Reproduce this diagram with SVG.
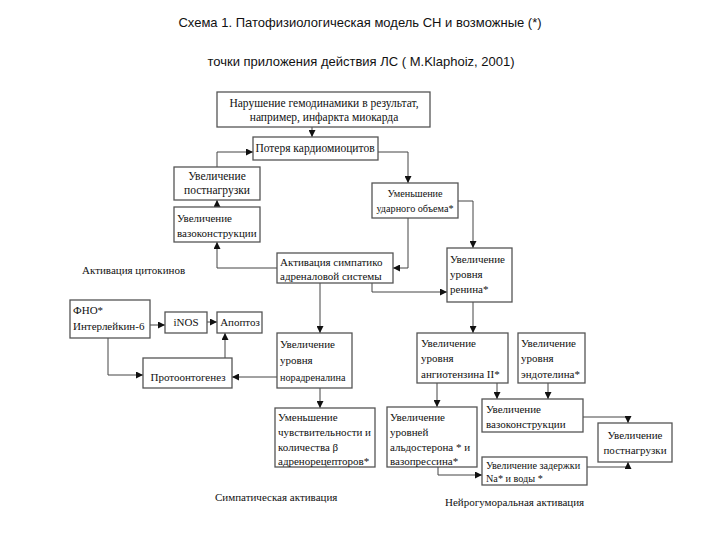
<svg xmlns="http://www.w3.org/2000/svg" width="720" height="540" viewBox="0 0 720 540">
<style>
.title{font-family:"Liberation Sans",Arial,sans-serif;font-size:13px;fill:#111}
.t{font-family:"Liberation Serif","Times New Roman",serif;font-size:11px;fill:#111}
.b{font-size:11.5px}
.s{font-size:10.2px}
.c{text-anchor:middle}
.box{fill:#fff;stroke:#555;stroke-width:1.3}
.ln{fill:none;stroke:#444;stroke-width:1}
</style>
<defs>
<marker id="ar" viewBox="0 0 8 8" refX="8" refY="4" markerWidth="7" markerHeight="7" markerUnits="userSpaceOnUse" orient="auto">
<path d="M0,0 L8,4 L0,8 z" fill="#111"/>
</marker>
</defs>
<rect width="720" height="540" fill="#fff"/>
<text class="title" x="360" y="27" text-anchor="middle">Схема 1. Патофизиологическая модель СН и возможные (*)</text>
<text class="title" x="361" y="66" text-anchor="middle">точки приложения действия ЛС ( M.Klaphoiz, 2001)</text>

<g id="connectors">
<path class="ln" marker-end="url(#ar)" d="M312,127 V137"/>
<path class="ln" marker-end="url(#ar)" d="M217,167 V152 H253"/>
<path class="ln" marker-end="url(#ar)" d="M378,152 H408 V183"/>
<path class="ln" marker-end="url(#ar)" d="M458,201 H473 V248"/>
<path class="ln" marker-end="url(#ar)" d="M408,218 V268 H393"/>
<path class="ln" marker-end="url(#ar)" d="M277,268 H217 V242"/>
<path class="ln" marker-end="url(#ar)" d="M217,207 V200"/>
<path class="ln" marker-end="url(#ar)" d="M372,283 V292 H447"/>
<path class="ln" marker-end="url(#ar)" d="M320,283 V333"/>
<path class="ln" marker-end="url(#ar)" d="M473,302 V333"/>
<path class="ln" marker-end="url(#ar)" d="M150,325 H165"/>
<path class="ln" marker-end="url(#ar)" d="M207,322 H217"/>
<path class="ln" marker-end="url(#ar)" d="M108,338 V375 H143"/>
<path class="ln" marker-end="url(#ar)" d="M225,358 V333"/>
<path class="ln" marker-end="url(#ar)" d="M277,377 H232"/>
<path class="ln" marker-end="url(#ar)" d="M320,388 V408"/>
<path class="ln" marker-end="url(#ar)" d="M437,383 V407"/>
<path class="ln" marker-end="url(#ar)" d="M497,383 V399"/>
<path class="ln" marker-end="url(#ar)" d="M548,383 V399"/>
<path class="ln" marker-end="url(#ar)" d="M583,417 H628 V423"/>
<path class="ln" marker-end="url(#ar)" d="M438,467 V475 H482"/>
<path class="ln" marker-end="url(#ar)" d="M587,467 H628 V462"/>
</g>

<g id="n1"><rect class="box" x="217" y="92" width="213" height="35"/>
<text class="t b c" x="324" y="107">Нарушение гемодинамики в результат,</text>
<text class="t b c" x="324" y="121">например, инфаркта миокарда</text></g>

<g id="n2"><rect class="box" x="253" y="137" width="125" height="23"/>
<text class="t b c" x="315" y="152">Потеря кардиомиоцитов</text></g>

<g id="n3"><rect class="box" x="174" y="167" width="86" height="33"/>
<text class="t b c" x="217" y="180">Увеличение</text>
<text class="t b c" x="217" y="194">постнагрузки</text></g>

<g id="n4"><rect class="box" x="174" y="207" width="86" height="35"/>
<text class="t" x="177" y="222">Увеличение</text>
<text class="t" x="177" y="237">вазоконструкции</text></g>

<g id="n5"><rect class="box" x="372" y="183" width="86" height="35"/>
<text class="t s c" x="415" y="197">Уменьшение</text>
<text class="t s c" x="415" y="212">ударного объема*</text></g>

<g id="n6"><rect class="box" x="277" y="253" width="116" height="30"/>
<text class="t" x="280" y="266">Активация симпатико</text>
<text class="t" x="280" y="280">адреналовой системы</text></g>

<g id="n7"><rect class="box" x="447" y="248" width="65" height="54"/>
<text class="t" x="450" y="263">Увеличение</text>
<text class="t" x="450" y="278">уровня</text>
<text class="t" x="450" y="293">ренина*</text></g>

<text class="t" x="82" y="274">Активация цитокинов</text>

<g id="n8"><rect class="box" x="70" y="300" width="80" height="38"/>
<text class="t" x="73" y="314">ФНО*</text>
<text class="t" x="73" y="330">Интерлейкин-6</text></g>

<g id="n9"><rect class="box" x="165" y="312" width="42" height="21"/>
<text class="t c" x="186" y="326">iNOS</text></g>

<g id="n10"><rect class="box" x="217" y="312" width="45" height="21"/>
<text class="t c" x="240" y="326">Апоптоз</text></g>

<g id="n11"><rect class="box" x="143" y="358" width="89" height="30"/>
<text class="t c" x="188" y="381">Протоонтогенез</text></g>

<g id="n12"><rect class="box" x="277" y="333" width="75" height="55"/>
<text class="t" x="280" y="348">Увеличение</text>
<text class="t" x="280" y="364">уровня</text>
<text class="t s" x="280" y="381">норадреналина</text></g>

<g id="n13"><rect class="box" x="417" y="333" width="91" height="50"/>
<text class="t" x="421" y="347">Увеличение</text>
<text class="t" x="421" y="362">уровня</text>
<text class="t" x="421" y="378">ангиотензина II*</text></g>

<g id="n14"><rect class="box" x="518" y="333" width="67" height="50"/>
<text class="t" x="521" y="347">Увеличение</text>
<text class="t" x="521" y="362">уровня</text>
<text class="t" x="521" y="378">эндотелина*</text></g>

<g id="n15"><rect class="box" x="275" y="408" width="100" height="59"/>
<text class="t" x="278" y="421">Уменьшение</text>
<text class="t" x="278" y="436">чувствительности и</text>
<text class="t" x="278" y="451">количества  β</text>
<text class="t" x="278" y="465">адренорецепторов*</text></g>

<g id="n16"><rect class="box" x="387" y="407" width="90" height="60"/>
<text class="t" x="390" y="421">Увеличение</text>
<text class="t" x="390" y="436">уровней</text>
<text class="t" x="390" y="451">альдостерона * и</text>
<text class="t" x="390" y="465">вазопрессина*</text></g>

<g id="n17"><rect class="box" x="482" y="399" width="101" height="33"/>
<text class="t" x="486" y="413">Увеличение</text>
<text class="t" x="486" y="428">вазоконструкции</text></g>

<g id="n18"><rect class="box" x="598" y="423" width="74" height="39"/>
<text class="t c" x="635" y="439">Увеличение</text>
<text class="t c" x="635" y="454">постнагрузки</text></g>

<g id="n19"><rect class="box" x="482" y="457" width="105" height="28"/>
<text class="t s" x="486" y="469">Увеличение задержки</text>
<text class="t s" x="486" y="482">Na* и воды *</text></g>

<text class="t" x="215" y="501">Симпатическая активация</text>
<text class="t" x="445" y="506">Нейрогуморальная активация</text>
</svg>
